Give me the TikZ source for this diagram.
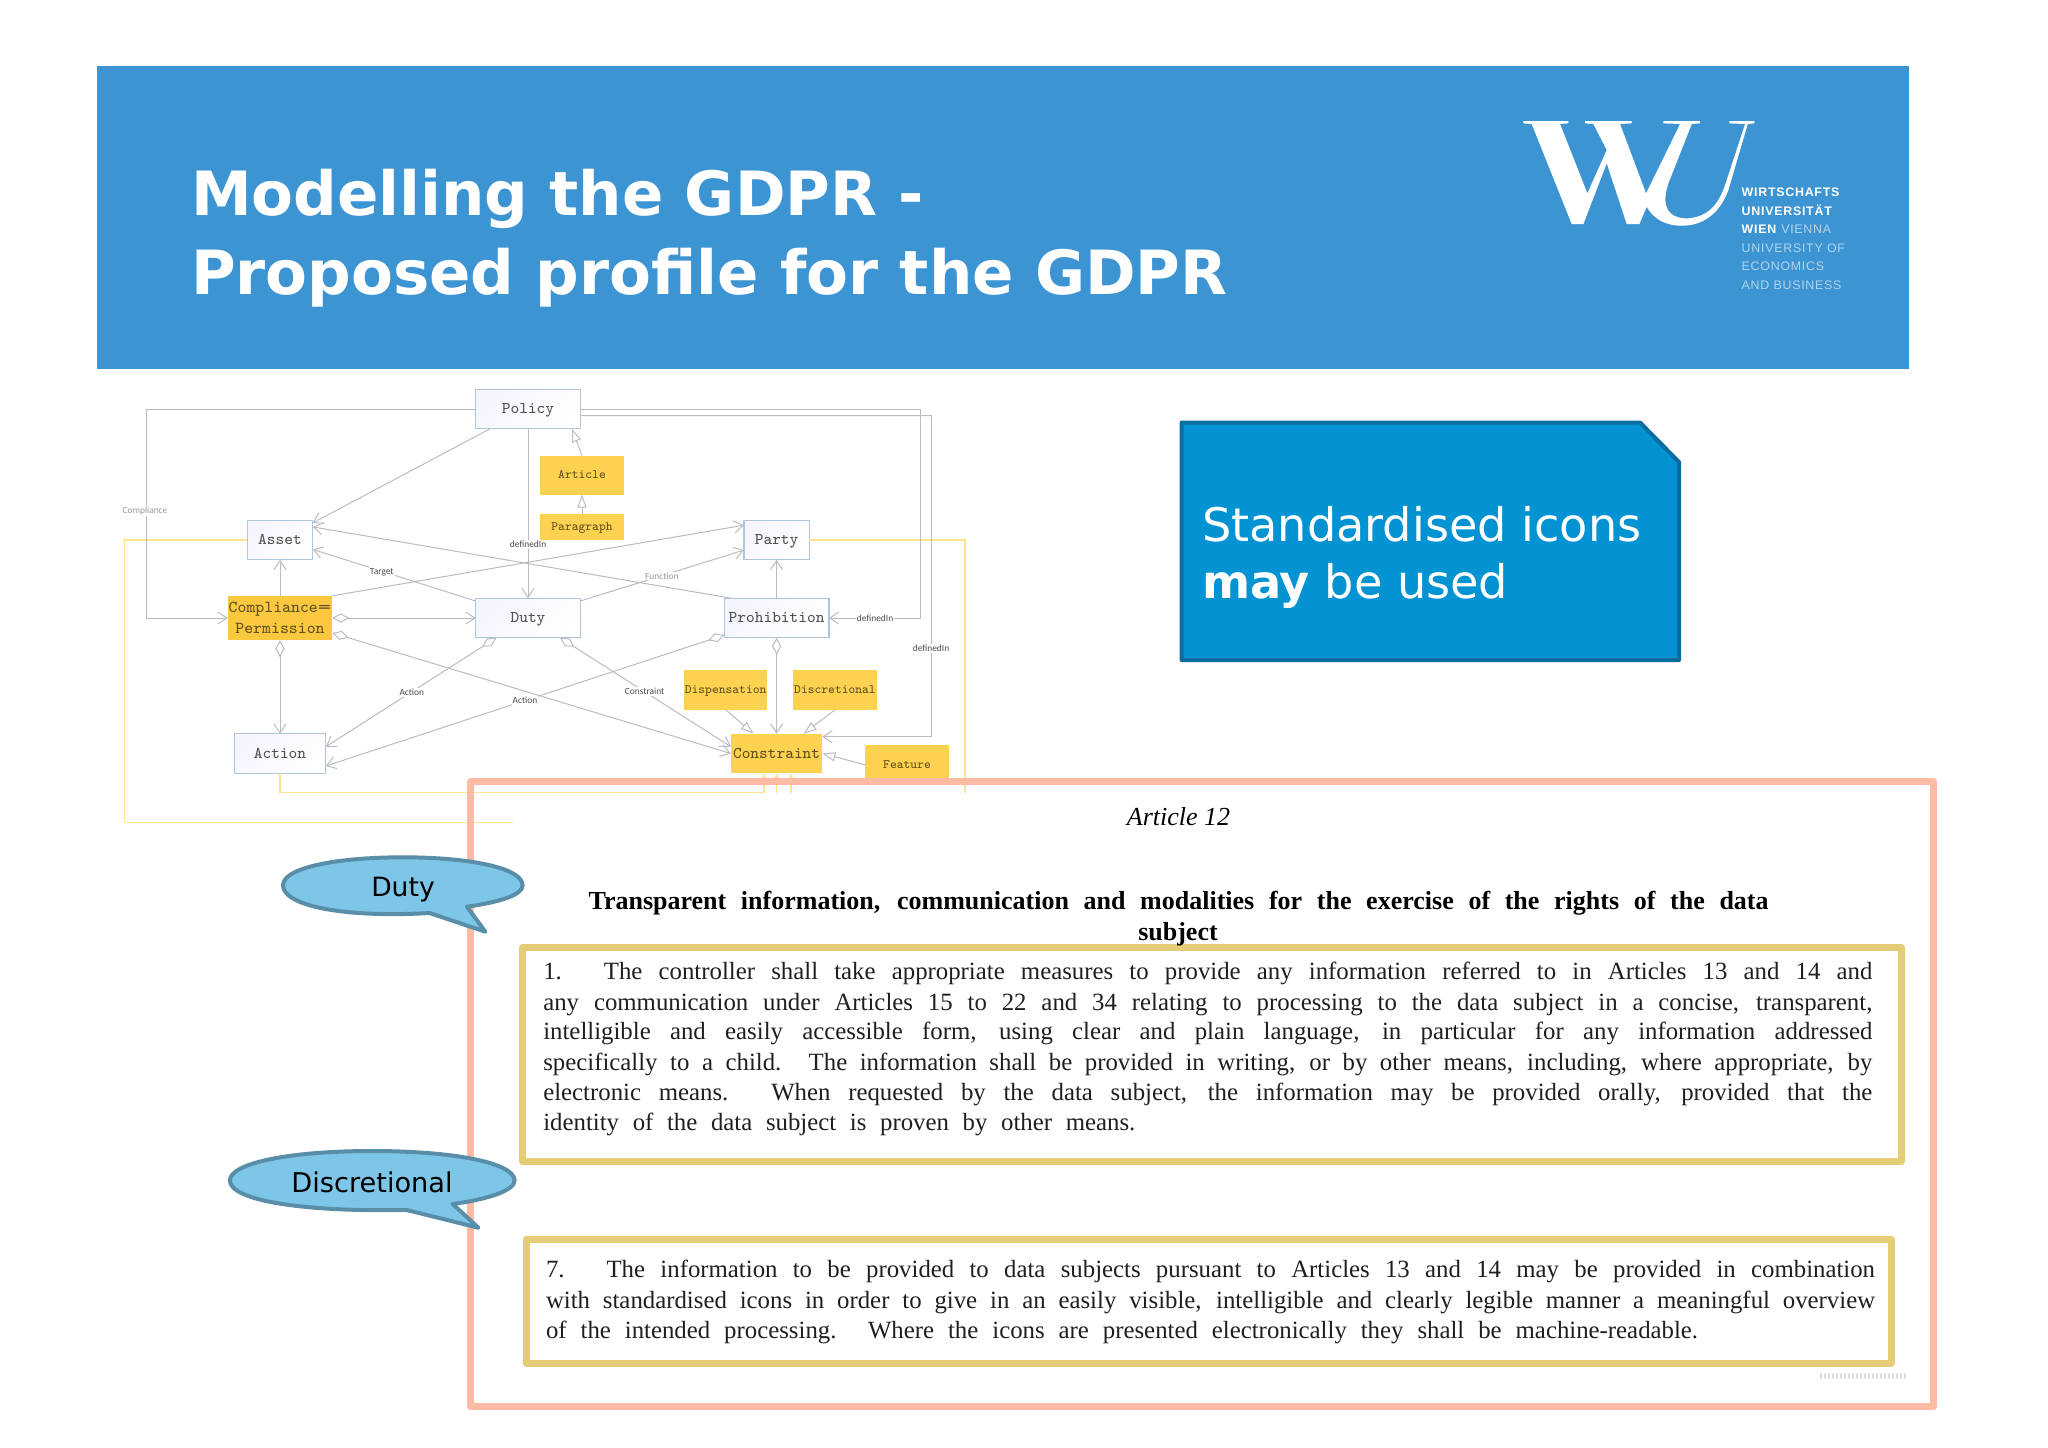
\documentclass[tikz,border=0pt]{standalone}
\usepackage{fontspec}
\usetikzlibrary{arrows.meta,shapes.geometric}
\setmainfont{Liberation Serif}
\setsansfont{DejaVu Sans}
\setmonofont{Latin Modern Mono}
\newfontfamily\smallf{Carlito}
\newfontfamily\logof[LetterSpace=6]{Liberation Sans}
\definecolor{banner}{RGB}{61,148,211}
\definecolor{boxfill}{RGB}{3,147,210}
\definecolor{boxline}{RGB}{11,108,160}
\definecolor{salmon}{RGB}{253,186,165}
\definecolor{gold}{RGB}{229,205,120}
\definecolor{bubble}{RGB}{126,198,232}
\definecolor{bubbleline}{RGB}{88,142,168}
\definecolor{conn}{RGB}{186,188,196}
\definecolor{ylw}{RGB}{253,210,80}
\definecolor{ylwdark}{RGB}{251,200,64}
\definecolor{ylwline}{RGB}{255,226,140}
\definecolor{nodeline}{RGB}{176,198,222}
\tikzset{
  every node/.style={inner sep=0pt,outer sep=0pt},
  bluebox/.style={draw=nodeline,line width=0.6pt,left color=blue!4!white,right color=white,shading angle=45,font=\ttfamily\fontsize{8.2}{10.5}\selectfont,align=center,text=black!68,text height=5.6pt,text depth=0.9pt},
  ybig/.style={fill=ylw,font=\ttfamily\fontsize{8.2}{10.5}\selectfont,text=black!62!ylw,align=center},
  ysmall/.style={fill=ylw,font=\ttfamily\fontsize{6.4}{8}\selectfont,text=black!62!ylw,align=center,text height=4.6pt,text depth=0.8pt},
  lbl/.style={fill=white,font=\smallf\fontsize{4.7}{6}\selectfont,text=black!70,inner sep=0.6pt},
  lblg/.style={lbl,text=black!40},
  cn/.style={draw=conn,line width=0.5pt},
  to/.style={cn,-{Straight Barb[length=4.5pt,width=6pt,line width=0.5pt]}},
  dto/.style={cn,{Diamond[open,length=8.5pt,width=4.6pt,fill=white,line width=0.5pt]}-{Straight Barb[length=4.5pt,width=6pt,line width=0.5pt]}},
  tri/.style={cn,-{Triangle[open,length=6.5pt,width=4.6pt,fill=white,line width=0.5pt]}},
  ybar/.style={draw=ylwline,line width=0.6pt},
  parline/.style={anchor=base west,font=\fontsize{12.4}{14}\selectfont,text=black!88},
}
\newcommand{\jl}[2][664.5pt]{\makebox[#1][s]{#2}}
\begin{document}
\begin{tikzpicture}[x=0.5pt,y=-0.5pt]
\useasboundingbox (0,0) rectangle (2048,1447);
\fill[white] (0,0) rectangle (2048,1447);
% banner
\fill[banner] (97,66) rectangle (1909,369);
\node[anchor=base west,text=white,font=\sffamily\bfseries\fontsize{30.5}{36}\selectfont] (t1) at (191,215.7) {Modelling the GDPR -};
\node[anchor=base west,text=white,font=\sffamily\bfseries\fontsize{30.5}{36}\selectfont] (t2) at (191,294) {Proposed profile for the GDPR};
% logo
\begin{scope}[shift={(1450,50)},x=0.1667pt,y=-0.1667pt,white]
\fill (220,213)--(355,213)--(355,220)--(330,222)--(412,430)--(470,300)--(430,222)--(405,220)--(405,213)--(545,213)--(545,220)--(510,222)--(588,430)--(690,222)--(640,220)--(640,213)--(750,213)--(750,220)--(725,222)--(655,400) .. controls (630,475) and (660,503) .. (705,505) .. controls (770,505) and (805,465) .. (825,405)--(885,222)--(838,220)--(838,213)--(913,213)--(913,220)--(893,222)--(835,420) .. controls (805,500) and (750,527) .. (695,527) .. controls (630,527) and (600,490) .. (590,470)--(568,522)--(530,522)--(470,340)--(400,522)--(365,522)--(245,222)--(220,220)--cycle;
\end{scope}
\node[anchor=base west,text=white,font=\logof\bfseries\fontsize{6.2}{7}\selectfont] (l1) at (1741.7,196.5) {WIRTSCHAFTS};
\node[anchor=base west,text=white,font=\logof\bfseries\fontsize{6.2}{7}\selectfont] (l2) at (1741.7,215) {UNIVERSITÄT};
\node[anchor=base west,text=white,font=\logof\fontsize{6.2}{7}\selectfont] (l3) at (1741.7,233.5) {\textbf{WIEN} \textcolor{white!60!banner}{VIENNA}};
\node[anchor=base west,text=white!60!banner,font=\logof\fontsize{6.2}{7}\selectfont] (l4) at (1741.7,252) {UNIVERSITY OF};
\node[anchor=base west,text=white!60!banner,font=\logof\fontsize{6.2}{7}\selectfont] (l5) at (1741.7,270.5) {ECONOMICS};
\node[anchor=base west,text=white!60!banner,font=\logof\fontsize{6.2}{7}\selectfont] (l6) at (1741.7,289) {AND BUSINESS};
% blue note
\draw[boxline,fill=boxfill,line width=2pt,line join=round] (1181.5,422.5)--(1640,422.5)--(1679,462)--(1679,660)--(1181.5,660)--cycle;
\node[anchor=base west,text=white,font=\sffamily\fontsize{23.1}{28}\selectfont] (n1) at (1202,541) {Standardised icons};
\node[anchor=base west,text=white,font=\sffamily\fontsize{23.1}{28}\selectfont] (n2) at (1202,598.5) {\textbf{may} be used};
% diagram nodes
\node[bluebox,minimum width=52.3pt,minimum height=19.8pt] (policy) at (528,409) {Policy};
\node[bluebox,minimum width=32.8pt,minimum height=19.8pt] (asset) at (280,540) {Asset};
\node[ybig,fill=ylwdark,minimum width=52.3pt,minimum height=22.2pt,font=\ttfamily\fontsize{8.4}{10.5}\selectfont] (comp) at (280,618) {Compliance\scalebox{1.5}[1]{=}\\Permission};
\node[bluebox,minimum width=52.3pt,minimum height=19.7pt] (duty) at (528,618) {Duty};
\node[bluebox,minimum width=45.8pt,minimum height=19.8pt] (action) at (280,753.5) {Action};
\node[bluebox,minimum width=32.7pt,minimum height=19.8pt] (party) at (776.6,540) {Party};
\node[bluebox,minimum width=52.3pt,minimum height=19.7pt] (prohib) at (776.6,618) {Prohibition};
\node[ysmall,minimum width=41.6pt,minimum height=19.5pt] (article) at (582,475) {Article};
\node[ysmall,minimum width=41.6pt,minimum height=13pt] (para) at (582,527) {Paragraph};
\node[ysmall,minimum width=41.6pt,minimum height=19.7pt] (disp) at (725.6,690) {Dispensation};
\node[ysmall,minimum width=42pt,minimum height=19.7pt] (discr) at (835,690) {Discretional};
\node[ybig,minimum width=45.8pt,minimum height=19.8pt] (constraint) at (776.6,753.5) {Constraint};
\node[ysmall,minimum width=42pt,minimum height=20pt] (feature) at (907,764.7) {Feature};
% turn points
\coordinate (cl) at (146.4,409);
\coordinate (cr1) at (920,409);
\coordinate (cr2) at (931.8,415.7);
\coordinate (yl1) at (124.3,540);
\coordinate (yl2) at (513,822.7);
\coordinate (yr1) at (965,540);
\coordinate (yr2) at (965,792.5);
\coordinate (ya) at (764,792.5);
\coordinate (yb) at (776.6,792.5);
\coordinate (yc) at (791,792.5);
% yellow connectors
\draw[ybar] (asset.west) -- (yl1) |- (yl2);
\draw[ybar] (party.east) -- (yr1) -- (yr2);
\draw[ybar] (action.south) |- (ya);
\draw[ybar,-{Triangle[length=3pt,width=2.6pt]}] (ya) -- (764,773.5);
\draw[ybar,-{Triangle[length=3pt,width=2.6pt]}] (yb) -- (constraint.south);
\draw[ybar,-{Triangle[length=3pt,width=2.6pt]}] (yc) -- (791,773.5);
% connectors
\draw[cn] (policy.west) -- (cl);
\draw[to] (cl) |- (comp.west);
\draw[cn] (policy.east) -- (cr1);
\draw[to] (cr1) |- (prohib.east);
\draw[cn] ([yshift=-3.35pt]policy.east) -- (cr2);
\draw[to] (cr2) |- ([yshift=8.4pt]constraint.east);
\draw[to] ([xshift=-19pt]policy.south) -- ([yshift=-1.35pt]asset.north east);
\draw[to] ([xshift=3.85pt]prohib.north west) -- ([yshift=-3.35pt]asset.north east);
\draw[to] ([yshift=-1.35pt]duty.north west) -- ([yshift=5.2pt]asset.south east);
\draw[to] (comp.north) -- (asset.south);
\draw[to] (comp.north east) -- ([yshift=-2.5pt]party.north west);
\draw[to] ([yshift=-1.35pt]duty.north east) -- ([yshift=4.85pt]party.south west);
\draw[to] (policy.south) -- (duty.north);
\draw[to] (prohib.north) -- (party.south);
\draw[dto] (comp.east) -- (duty.west);
\draw[dto] ([yshift=3.65pt]comp.south east) -- (constraint.west);
\draw[dto] (comp.south) -- (action.north);
\draw[dto] ([xshift=-15.8pt]duty.south) -- ([yshift=3.4pt]action.east);
\draw[dto] ([yshift=1.35pt]prohib.south west) -- ([yshift=-6.25pt]action.east);
\draw[dto] ([xshift=16pt]duty.south) -- ([yshift=3.4pt]constraint.west);
\draw[dto] (prohib.south) -- (constraint.north);
\draw[tri] (article.north) -- ([xshift=22pt]policy.south);
\draw[tri] (para.north) -- (article.south);
\draw[tri] (disp.south) -- ([xshift=-11.5pt]constraint.north);
\draw[tri] (discr.south) -- ([xshift=13.5pt]constraint.north);
\draw[tri] (feature.west) -- (constraint.east);
% labels
\node[lblg] (lb1) at (145,511) {Compliance};
\node[lbl] (lb2) at (528,544.7) {definedIn};
\node[lbl] (lb3) at (381.8,572) {Target};
\node[lblg] (lb4) at (661.8,576) {Function};
\node[lbl] (lb5) at (411.8,692) {Action};
\node[lbl] (lb6) at (525,700) {Action};
\node[lbl] (lb7) at (644.6,691.7) {Constraint};
\node[lbl] (lb8) at (875,618) {definedIn};
\node[lbl] (lb9) at (931,648.7) {definedIn};
% article page
\fill[white] (513,793) rectangle (1930,1403);
\draw[salmon,line width=3.5pt,line join=round] (470.5,781.5) rectangle (1933,1406.7);
\draw[gold,line width=3.5pt,line join=round] (522,947.5) rectangle (1901.5,1161.5);
\draw[black!12,line width=3pt,dash pattern=on 1pt off 1pt] (1820,1376) -- (1908,1376);
\draw[gold,line width=3.5pt,line join=round] (526,1239) rectangle (1891,1363);
\node[anchor=base,font=\itshape\fontsize{13}{15}\selectfont] (art) at (1178.5,825) {Article 12};
\node[anchor=base west,font=\bfseries\fontsize{13}{15}\selectfont] (h1) at (588.6,909.3) {\jl[590pt]{Transparent information, communication and modalities for the exercise of the rights of the data}};
\node[anchor=base,font=\bfseries\fontsize{13}{15}\selectfont] (h2) at (1178,940) {subject};
\node[parline] (a1) at (543.3,979) {\jl{1.\hspace{21pt}The controller shall take appropriate measures to provide any information referred to in Articles 13 and 14 and}};
\node[parline] (a2) at (543.3,1010) {\jl{any communication under Articles 15 to 22 and 34 relating to processing to the data subject in a concise, transparent,}};
\node[parline] (a3) at (543.3,1039.3) {\jl{intelligible and easily accessible form, using clear and plain language, in particular for any information addressed}};
\node[parline] (a4) at (543.3,1070) {\jl{specifically to a child. The information shall be provided in writing, or by other means, including, where appropriate, by}};
\node[parline] (a5) at (543.3,1100.7) {\jl{electronic means. When requested by the data subject, the information may be provided orally, provided that the}};
\node[parline] (a6) at (543.3,1130) {\jl[296pt]{identity of the data subject is proven by other means.}};
\node[parline] (b1) at (546,1277.3) {\jl{7.\hspace{21pt}The information to be provided to data subjects pursuant to Articles 13 and 14 may be provided in combination}};
\node[parline] (b2) at (546,1308.3) {\jl{with standardised icons in order to give in an easily visible, intelligible and clearly legible manner a meaningful overview}};
\node[parline] (b3) at (546,1338.3) {\jl[576pt]{of the intended processing. Where the icons are presented electronically they shall be machine-readable.}};
% bubbles
\draw[bubbleline,fill=bubble,line width=2pt,line join=round] (429.6,913) .. controls (340,918) and (283,905) .. (283,885.3) .. controls (283,868) and (335,857.3) .. (403,857.3) .. controls (470,857.3) and (522.6,868) .. (522.6,885.3) .. controls (522.6,895) and (500,902) .. (467,906.7) -- (485.3,931.7) -- cycle;
\node[font=\sffamily\fontsize{13.3}{15}\selectfont] (bd) at (403,890) {Duty};
\draw[bubbleline,fill=bubble,line width=2pt,line join=round] (406.7,1210) .. controls (300,1212) and (229.9,1200) .. (229.9,1180.5) .. controls (229.9,1163) and (290,1151) .. (372,1151) .. controls (455,1151) and (514.6,1163) .. (514.6,1180.5) .. controls (514.6,1190) and (490,1199) .. (452.6,1204) -- (478.4,1227.7) -- cycle;
\node[font=\sffamily\fontsize{13.6}{15}\selectfont] (bc) at (372,1182) {Discretional};
\end{tikzpicture}
\end{document}
